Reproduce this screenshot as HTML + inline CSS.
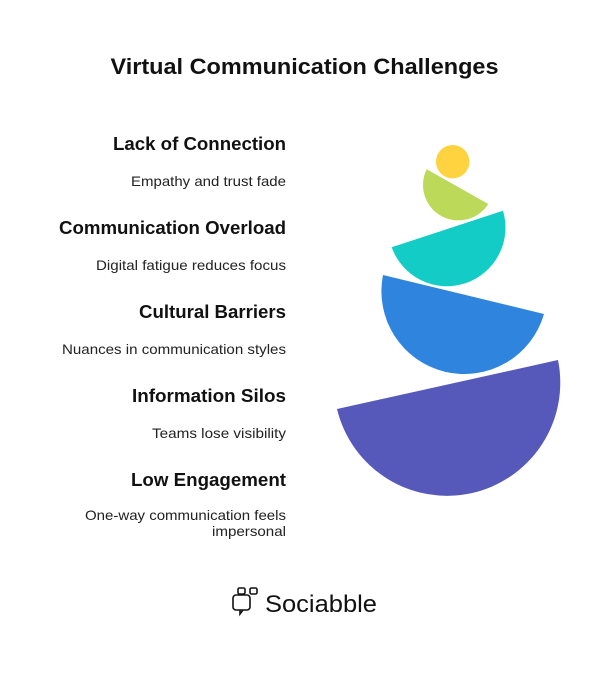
<!DOCTYPE html>
<html><head><meta charset="utf-8"><style>
html,body{margin:0;padding:0;background:#fff;}
svg{display:block;font-family:"Liberation Sans",Arial,sans-serif;}
</style></head><body>
<svg width="609" height="685" viewBox="0 0 609 685">
<text x="304.5" y="74" text-anchor="middle" font-size="22" font-weight="bold" fill="#111" textLength="388" lengthAdjust="spacingAndGlyphs">Virtual Communication Challenges</text>

<g fill="#111" text-anchor="end">
<text x="286" y="150" font-size="18" font-weight="bold" textLength="173" lengthAdjust="spacingAndGlyphs">Lack of Connection</text>
<text x="286" y="186" font-size="14" fill="#222" textLength="155" lengthAdjust="spacingAndGlyphs">Empathy and trust fade</text>
<text x="286" y="234" font-size="18" font-weight="bold" textLength="227" lengthAdjust="spacingAndGlyphs">Communication Overload</text>
<text x="286" y="270" font-size="14" fill="#222" textLength="190" lengthAdjust="spacingAndGlyphs">Digital fatigue reduces focus</text>
<text x="286" y="318" font-size="18" font-weight="bold" textLength="147" lengthAdjust="spacingAndGlyphs">Cultural Barriers</text>
<text x="286" y="354" font-size="14" fill="#222" textLength="224" lengthAdjust="spacingAndGlyphs">Nuances in communication styles</text>
<text x="286" y="402" font-size="18" font-weight="bold" textLength="154" lengthAdjust="spacingAndGlyphs">Information Silos</text>
<text x="286" y="438" font-size="14" fill="#222" textLength="134" lengthAdjust="spacingAndGlyphs">Teams lose visibility</text>
<text x="286" y="486" font-size="18" font-weight="bold" textLength="155" lengthAdjust="spacingAndGlyphs">Low Engagement</text>
<text x="286" y="520" font-size="14" fill="#222" textLength="201" lengthAdjust="spacingAndGlyphs">One-way communication feels</text>
<text x="286" y="536" font-size="14" fill="#222" textLength="74" lengthAdjust="spacingAndGlyphs">impersonal</text>
</g>

<path d="M337 409 A113.2 113.2 0 0 0 558 360 Z" fill="#5759BA"/>
<path d="M383 275 A82.9 82.9 0 0 0 544 314 Z" fill="#2F84DE"/>
<path d="M391.7 247.3 A58.6 58.6 0 0 0 503 210.7 Z" fill="#13CCC5"/>
<path d="M426.7 169.3 A35.4 35.4 0 0 0 488.3 204 Z" fill="#BCD95A"/>
<circle cx="452.7" cy="161.7" r="16.7" fill="#FFD23F"/>

<g fill="none" stroke="#111" stroke-width="1.6">
<rect x="233" y="595" width="17" height="15" rx="3"/>
<rect x="238" y="588" width="7" height="6" rx="1.5" fill="#fff"/>
<rect x="250" y="588" width="7" height="6" rx="1.5" fill="#fff"/>
<path d="M240 610 l0 4 l3 -4"/>
</g>
<text x="265" y="612" font-size="24" fill="#111" textLength="112" lengthAdjust="spacingAndGlyphs">Sociabble</text>
</svg>
</body></html>
